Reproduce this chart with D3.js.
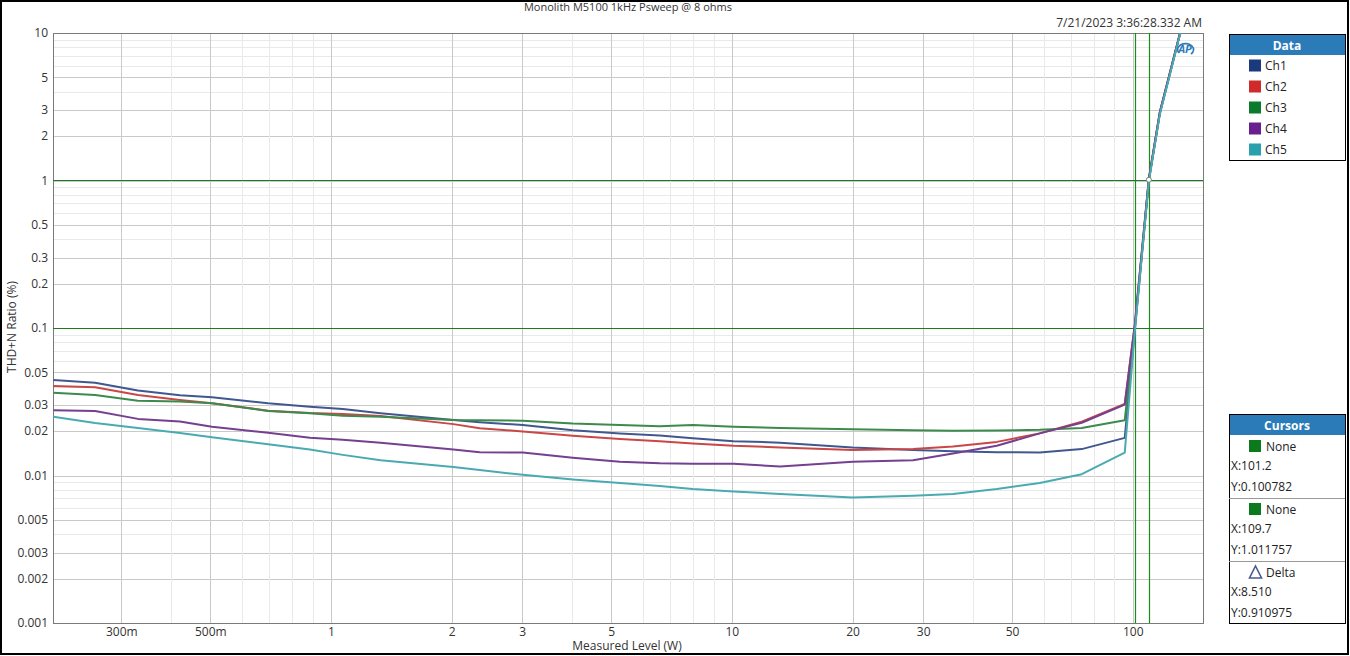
<!DOCTYPE html>
<html>
<head>
<meta charset="utf-8">
<script src="https://cdn.jsdelivr.net/npm/d3@7"></script>
<style>
  body { margin: 0; background: #fff; }
  svg { display: block; font-family: "Open Sans", "Noto Sans", sans-serif; }
</style>
</head>
<body>
<svg id="chart" width="1350" height="656"></svg>
<script>
// measured level steps (W)
var levels = [0.203, 0.258, 0.330, 0.420, 0.505, 0.697, 0.886, 1.07, 1.33, 2.02, 2.35, 3.01, 4.01, 5.26,
              6.61, 7.99, 10.1, 13.2, 20.0, 28.3, 35.6, 45.8, 58.6, 74.6, 95.5, 101.2, 109.7, 116.8, 135];

// THD+N ratio (%) per channel
var ch1 = [0.0444, 0.0426, 0.0377, 0.0350, 0.0339, 0.0309, 0.0293, 0.0282, 0.0264, 0.0238, 0.0230, 0.0220, 0.0203, 0.0193,
           0.0187, 0.0179, 0.0171, 0.0167, 0.0155, 0.0149, 0.0146, 0.0144, 0.0143, 0.0151, 0.0180, 0.098, 1.00, 2.85, 13.5];
var ch2 = [0.0404, 0.0396, 0.0351, 0.0325, 0.0309, 0.0275, 0.0265, 0.0261, 0.0253, 0.0223, 0.0209, 0.0199, 0.0186, 0.0177,
           0.0171, 0.0165, 0.0159, 0.0155, 0.0149, 0.0151, 0.0157, 0.0169, 0.0193, 0.0232, 0.0306, 0.106, 1.03, 2.90, 13.5];
var ch3 = [0.0364, 0.0351, 0.0321, 0.0317, 0.0309, 0.0274, 0.0264, 0.0254, 0.0250, 0.0238, 0.0237, 0.0235, 0.0225, 0.0220,
           0.0216, 0.0220, 0.0214, 0.0210, 0.0206, 0.0203, 0.0201, 0.0202, 0.0204, 0.0210, 0.0237, 0.100, 1.01, 2.85, 13.5];
var ch4 = [0.0277, 0.0274, 0.0242, 0.0232, 0.0214, 0.0195, 0.0180, 0.0175, 0.0167, 0.0150, 0.0144, 0.0143, 0.0132, 0.0124,
           0.0121, 0.0120, 0.0120, 0.0115, 0.0124, 0.0127, 0.0141, 0.0159, 0.0193, 0.0228, 0.0302, 0.105, 1.03, 2.90, 13.5];
var ch5 = [0.0250, 0.0227, 0.0210, 0.0194, 0.0182, 0.0163, 0.0150, 0.0138, 0.0127, 0.0114, 0.0109, 0.0101, 0.0094, 0.0089,
           0.0085, 0.0081, 0.0078, 0.0075, 0.0071, 0.0073, 0.0075, 0.0081, 0.0089, 0.0102, 0.0143, 0.095, 0.99, 2.80, 13.3];

var seriesNames = ["Ch1", "Ch2", "Ch3", "Ch4", "Ch5"];
var seriesValues = [ch1, ch2, ch3, ch4, ch5];
var swatchColors = ["#1b3a7e", "#d02b2b", "#0c7a2c", "#6a1f8e", "#2a9fae"];
var lineColors = ["#40578f", "#c94747", "#3c8a4c", "#74408f", "#4aaab2"];

// axis ticks
var yTicks = [10, 5, 3, 2, 1, 0.5, 0.3, 0.2, 0.1, 0.05, 0.03, 0.02, 0.01, 0.005, 0.003, 0.002, 0.001];
var xTicks = [0.3, 0.5, 1, 2, 3, 5, 10, 20, 30, 50, 100];
var xTickLabels = ["300m", "500m", "1", "2", "3", "5", "10", "20", "30", "50", "100"];

// cursors
var cursorX = [101.2, 109.7];
var cursorY = [0.100782, 1.011757];
var cursorText = [["None", "X:101.2", "Y:0.100782"], ["None", "X:109.7", "Y:1.011757"], ["Delta", "X:8.510", "Y:0.910975"]];

var svg = d3.select("#chart");
var pLeft = 53, pTop = 33, pRight = 1203, pBottom = 623;

var x = d3.scaleLog().domain([0.2026, 149.7]).range([pLeft, pRight]);
var y = d3.scaleLog().domain([0.001, 10]).range([pBottom, pTop]);

// outer frame
svg.append("rect").attr("x", 1).attr("y", 1).attr("width", 1347).attr("height", 653)
  .attr("fill", "#fff").attr("stroke", "#000").attr("stroke-width", 2);

// grid lines
var gridY = [], gridX = [];
[0.001, 0.01, 0.1, 1].forEach(function(d) {
  for (var k = 1; k < 10; k++) gridY.push(+(d * k).toPrecision(3));
});
[0.1, 1, 10, 100].forEach(function(d) {
  for (var k = 1; k < 10; k++) {
    var v = +(d * k).toPrecision(3);
    if (v > x.domain()[0] && v < x.domain()[1]) gridX.push(v);
  }
});
function isMajor(list, v) { return list.indexOf(v) >= 0; }

var grid = svg.append("g");
grid.selectAll(".gy").data(gridY).enter().append("line")
  .attr("x1", pLeft).attr("x2", pRight)
  .attr("y1", function(d) { return Math.round(y(d)) + 0.5; })
  .attr("y2", function(d) { return Math.round(y(d)) + 0.5; })
  .attr("stroke", function(d) { return isMajor(yTicks, d) ? "#c9c9c9" : "#e9e9e9"; });
grid.selectAll(".gx").data(gridX).enter().append("line")
  .attr("y1", pTop).attr("y2", pBottom)
  .attr("x1", function(d) { return Math.round(x(d)) + 0.5; })
  .attr("x2", function(d) { return Math.round(x(d)) + 0.5; })
  .attr("stroke", function(d) { return isMajor(xTicks, d) ? "#c9c9c9" : "#e9e9e9"; });

// plot frame
svg.append("rect").attr("x", pLeft + 0.5).attr("y", pTop + 0.5)
  .attr("width", pRight - pLeft).attr("height", pBottom - pTop)
  .attr("fill", "none").attr("stroke", "#7a7a7a");

// axes
var yAxis = svg.append("g").attr("transform", "translate(" + pLeft + ",0)")
  .call(d3.axisLeft(y).tickValues(yTicks).tickFormat(function(d) { return String(+d.toPrecision(3)); }).tickSize(0).tickPadding(5));
var xAxis = svg.append("g").attr("transform", "translate(0," + pBottom + ")")
  .call(d3.axisBottom(x).tickValues(xTicks).tickFormat(function(d, i) { return xTickLabels[i]; }).tickSize(0).tickPadding(4));
[yAxis, xAxis].forEach(function(a) {
  a.select(".domain").remove();
  a.selectAll("text").attr("fill", "#333").style("font-size", "12px").style("font-family", "'Open Sans', sans-serif");
});

// clip
svg.append("clipPath").attr("id", "clip").append("rect")
  .attr("x", pLeft).attr("y", pTop).attr("width", pRight - pLeft).attr("height", pBottom - pTop);

// cursor lines
var cur = svg.append("g").attr("clip-path", "url(#clip)");
cur.selectAll(".cx").data(cursorX).enter().append("line")
  .attr("class", "cx")
  .attr("x1", function(d) { return Math.round(x(d)) + 0.5; })
  .attr("x2", function(d) { return Math.round(x(d)) + 0.5; })
  .attr("y1", pTop).attr("y2", pBottom)
  .attr("stroke", "#1d8a1d").attr("stroke-width", 1.2);
cur.selectAll(".cy").data(cursorY).enter().append("line")
  .attr("class", "cy")
  .attr("y1", function(d) { return Math.round(y(d)) + 0.5; })
  .attr("y2", function(d) { return Math.round(y(d)) + 0.5; })
  .attr("x1", pLeft).attr("x2", pRight)
  .attr("stroke", "#1d7a1d").attr("stroke-width", 1.2);

// data lines
var line = d3.line()
  .x(function(d) { return x(d[0]); })
  .y(function(d) { return y(d[1]); });

var plot = svg.append("g").attr("clip-path", "url(#clip)");
plot.selectAll("path").data(seriesValues).enter().append("path")
  .attr("d", function(vals) { return line(levels.map(function(l, i) { return [l, vals[i]]; })); })
  .attr("fill", "none")
  .attr("stroke", function(d, i) { return lineColors[i]; })
  .attr("stroke-width", 2)
  .attr("stroke-linejoin", "round");

// cursor marker
svg.append("circle").attr("cx", x(cursorX[1])).attr("cy", y(cursorY[1])).attr("r", 2.5)
  .attr("fill", "#fff").attr("stroke", "#6a8a6a").attr("stroke-width", 1);

// AP logo
var logo = svg.append("g").attr("transform", "translate(1185,49)");
logo.append("path").attr("d", "M-6,4 A8,6 0 1,1 6,5")
  .attr("fill", "none").attr("stroke", "#2b7bb9").attr("stroke-width", 1.6);
logo.append("text").attr("x", 0).attr("y", 4).attr("text-anchor", "middle")
  .style("font-size", "11px").style("font-weight", "bold").style("font-style", "italic")
  .attr("fill", "#2b7bb9").text("AP");

// titles
svg.append("text").attr("x", 628).attr("y", 11).attr("text-anchor", "middle")
  .style("font-size", "11px").attr("fill", "#333").text("Monolith M5100 1kHz Psweep @ 8 ohms");
svg.append("text").attr("x", 1202).attr("y", 27).attr("text-anchor", "end")
  .style("font-size", "12px").attr("fill", "#333").text("7/21/2023 3:36:28.332 AM");
svg.append("text").attr("x", 627).attr("y", 650).attr("text-anchor", "middle")
  .style("font-size", "12px").attr("fill", "#333").text("Measured Level (W)");
svg.append("text").attr("transform", "translate(16,327) rotate(-90)").attr("text-anchor", "middle")
  .style("font-size", "12px").attr("fill", "#333").text("THD+N Ratio (%)");

// legend panel
var lx = 1229, lw = 116;
var leg = svg.append("g");
leg.append("rect").attr("x", lx + 0.5).attr("y", 34.5).attr("width", lw).attr("height", 126)
  .attr("fill", "#fff").attr("stroke", "#000");
leg.append("rect").attr("x", lx + 1).attr("y", 35).attr("width", lw - 1).attr("height", 20).attr("fill", "#2b7bb9");
leg.append("text").attr("x", lx + lw / 2).attr("y", 49.5).attr("text-anchor", "middle")
  .style("font-size", "12px").style("font-weight", "bold").attr("fill", "#fff").text("Data");
var items = leg.selectAll(".item").data(seriesNames).enter().append("g")
  .attr("transform", function(d, i) { return "translate(0," + (65.5 + i * 21) + ")"; });
items.append("rect").attr("x", 1249).attr("y", -6).attr("width", 12).attr("height", 12)
  .attr("fill", function(d, i) { return swatchColors[i]; });
items.append("text").attr("x", 1265).attr("y", 4.5)
  .style("font-size", "12px").attr("fill", "#222").text(function(d) { return d; });

// cursors panel
var cp = svg.append("g");
cp.append("rect").attr("x", lx + 0.5).attr("y", 414.5).attr("width", lw).attr("height", 209)
  .attr("fill", "#fff").attr("stroke", "#000");
cp.append("rect").attr("x", lx + 1).attr("y", 415).attr("width", lw - 1).attr("height", 20).attr("fill", "#2b7bb9");
cp.append("text").attr("x", lx + lw / 2).attr("y", 429.5).attr("text-anchor", "middle")
  .style("font-size", "12px").style("font-weight", "bold").attr("fill", "#fff").text("Cursors");
[498.5, 561.5].forEach(function(sy) {
  cp.append("line").attr("x1", lx).attr("x2", lx + lw).attr("y1", sy).attr("y2", sy).attr("stroke", "#999");
});
cursorText.forEach(function(rows, j) {
  var by = 446 + j * 63;
  if (j < 2) {
    cp.append("rect").attr("x", 1249).attr("y", by - 6).attr("width", 12).attr("height", 12).attr("fill", "#0c7a1c");
  } else {
    cp.append("path").attr("d", "M1255.5," + (by - 6) + " L1261.5," + (by + 6) + " L1249.5," + (by + 6) + " Z")
      .attr("fill", "none").attr("stroke", "#4a5c8c").attr("stroke-width", 1.6);
  }
  cp.append("text").attr("x", 1266).attr("y", by + 4.5).style("font-size", "12px").attr("fill", "#222").text(rows[0]);
  cp.append("text").attr("x", 1231).attr("y", by + 24).style("font-size", "12px").attr("fill", "#222").text(rows[1]);
  cp.append("text").attr("x", 1231).attr("y", by + 45).style("font-size", "12px").attr("fill", "#222").text(rows[2]);
});
</script>
</body>
</html>
